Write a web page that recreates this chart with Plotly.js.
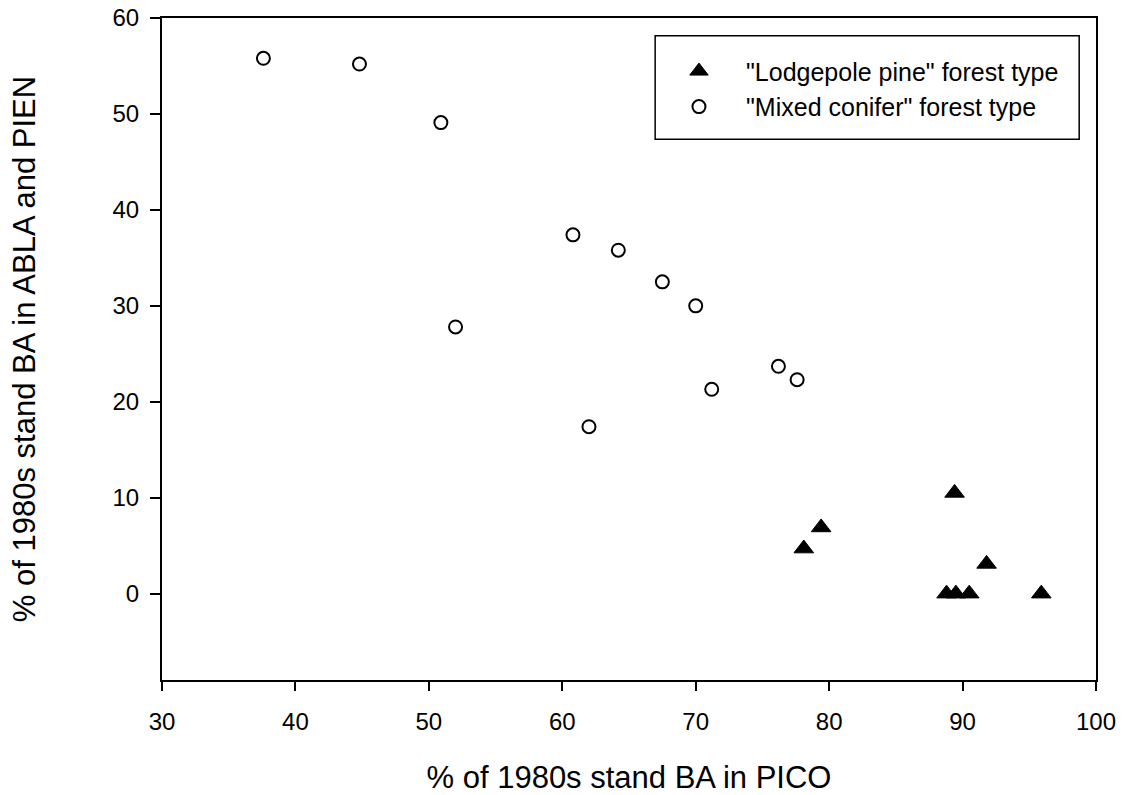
<!DOCTYPE html>
<html>
<head>
<meta charset="utf-8">
<script src="https://cdn.plot.ly/plotly-3.0.1.min.js"></script>
<style>html,body{margin:0;padding:0;background:#fff;}#chart{width:1125px;height:795px;}</style>
</head>
<body>
<div id="chart"></div>
<script>
// "Lodgepole pine" forest type
const lodgepoleX = [89.4, 79.4, 78.1, 91.8, 88.8, 89.5, 90.5, 95.9];
const lodgepoleY = [10.5, 6.9, 4.7, 3.1, 0, 0, 0, 0];
// "Mixed conifer" forest type
const mixedX = [37.6, 44.8, 50.9, 60.8, 64.2, 67.5, 70.0, 52.0, 76.2, 77.6, 71.2, 62.0];
const mixedY = [55.8, 55.2, 49.1, 37.4, 35.8, 32.5, 30.0, 27.8, 23.7, 22.3, 21.3, 17.4];
const seriesNames = ['"Lodgepole pine" forest type', '"Mixed conifer" forest type'];
const xTitle = '% of 1980s stand BA in PICO';
const yTitle = '% of 1980s stand BA in ABLA and PIEN';
const xTicks = [30, 40, 50, 60, 70, 80, 90, 100];
const yTicks = [0, 10, 20, 30, 40, 50, 60];

const font = 'Liberation Sans, Arial, sans-serif';
const traces = [
  {x: lodgepoleX, y: lodgepoleY, name: seriesNames[0], type: 'scatter', mode: 'markers',
   marker: {symbol: 'triangle-up', size: 17, color: '#000', line: {color: '#000', width: 1}}},
  {x: mixedX, y: mixedY, name: seriesNames[1], type: 'scatter', mode: 'markers',
   marker: {symbol: 'circle', size: 13, color: '#fff', line: {color: '#000', width: 2}}}
];
const layout = {
  width: 1125, height: 795,
  margin: {l: 162, r: 29, t: 18, b: 115},
  paper_bgcolor: '#fff', plot_bgcolor: '#fff',
  font: {family: font, color: '#000', size: 24},
  showlegend: true,
  legend: {x: 0.5246, y: 0.893, xanchor: 'left', yanchor: 'middle',
    borderwidth: 0, bgcolor: 'rgba(0,0,0,0)', itemwidth: 84,
    font: {family: font, size: 25, color: '#000'}, tracegroupgap: 0},
  shapes: [{type: 'rect', xref: 'paper', yref: 'paper',
    x0: 0.528, x1: 0.982, y0: 0.817, y1: 0.973,
    line: {color: '#000', width: 1.5}, fillcolor: 'rgba(0,0,0,0)', layer: 'above'}],
  xaxis: {range: [30, 100], tickvals: xTicks, ticktext: xTicks.map(String),
    ticks: 'outside', ticklen: 9, tickwidth: 2, tickcolor: '#000', ticklabelstandoff: 10,
    showline: true, linecolor: '#000', linewidth: 2, mirror: true,
    showgrid: false, zeroline: false,
    tickfont: {family: font, size: 24, color: '#000'},
    title: {text: xTitle, font: {family: font, size: 31, color: '#000'}, standoff: 38}},
  yaxis: {range: [-9, 60], tickvals: yTicks, ticktext: yTicks.map(String),
    ticks: 'outside', ticklen: 10, tickwidth: 2, tickcolor: '#000', ticklabelstandoff: 6,
    showline: true, linecolor: '#000', linewidth: 2, mirror: true,
    showgrid: false, zeroline: false,
    tickfont: {family: font, size: 24, color: '#000'},
    title: {text: yTitle, font: {family: font, size: 31, color: '#000'}, standoff: 68}}
};
Plotly.newPlot('chart', traces, layout, {staticPlot: true, displayModeBar: false});
</script>
</body>
</html>
